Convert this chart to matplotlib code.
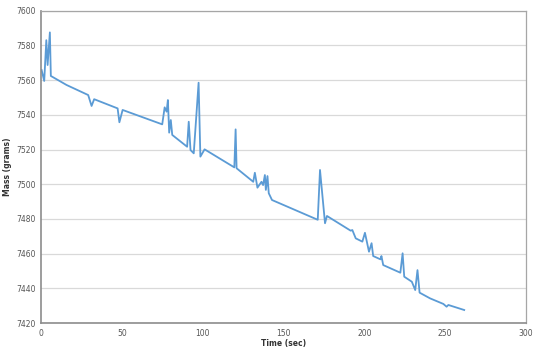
import matplotlib
matplotlib.use('Agg')
import matplotlib.pyplot as plt

# mass readings (grams) against time (sec)
time_sec = [0.4, 2.0, 3.3, 4.1, 5.5, 6.1, 15.8, 29.2, 31.3, 32.9, 47.4, 48.5,
            50.5, 75.0, 76.5, 77.7, 78.5, 79.3, 80.3, 81.2, 90.4, 91.4, 92.5,
            94.5, 97.5, 98.6, 101.2, 119.6, 120.4, 121.0, 131.3, 132.3, 133.9,
            136.4, 137.4, 138.5, 139.1, 140.1, 140.9, 142.9, 171.2, 172.6,
            175.7, 176.9, 191.6, 192.6, 194.7, 198.8, 200.4, 202.9, 204.5,
            205.5, 210.0, 210.6, 211.7, 222.3, 223.7, 224.7, 229.4, 231.5,
            232.9, 234.2, 240.7, 248.9, 250.9, 252.0, 261.8]
mass_g = [7565.8, 7559.5, 7583.0, 7568.7, 7587.5, 7562.4, 7557.2, 7551.4,
          7545.1, 7549.0, 7543.7, 7535.7, 7542.8, 7534.5, 7544.3, 7541.8,
          7548.5, 7529.7, 7537.0, 7528.4, 7521.6, 7536.0, 7519.7, 7517.8,
          7558.5, 7515.9, 7520.1, 7509.7, 7531.6, 7509.2, 7501.4, 7506.6,
          7498.0, 7501.4, 7499.5, 7505.3, 7496.7, 7504.7, 7494.8, 7490.9,
          7479.5, 7508.2, 7477.5, 7481.7, 7473.2, 7473.6, 7468.8, 7466.9,
          7472.0, 7461.1, 7466.0, 7458.6, 7456.7, 7458.6, 7453.4, 7449.0,
          7460.2, 7446.7, 7443.8, 7439.0, 7450.5, 7437.5, 7434.2, 7431.0,
          7429.4, 7430.4, 7427.5]

x_ticks = [0, 50, 100, 150, 200, 250, 300]
y_ticks = [7420, 7440, 7460, 7480, 7500, 7520, 7540, 7560, 7580, 7600]

fig = plt.figure(figsize=(5.35, 3.5), dpi=100)
ax = fig.add_axes([0.0766, 0.0771, 0.9065, 0.8923])

ax.plot(time_sec, mass_g, color='#5b9bd5', linewidth=1.3)

ax.set_xlim(0, 300)
ax.set_ylim(7420, 7600)
ax.set_xticks(x_ticks)
ax.set_yticks(y_ticks)
ax.tick_params(length=0, labelsize=5.5, labelcolor='#555555', pad=4)
ax.grid(axis='y', color='#d9d9d9', linewidth=0.9)
ax.set_axisbelow(True)
for side in ['left', 'bottom']:
    ax.spines[side].set_color('#8c8c8c')
    ax.spines[side].set_linewidth(1.2)
for side in ['top', 'right']:
    ax.spines[side].set_color('#a6a6a6')
    ax.spines[side].set_linewidth(0.9)

ax.set_xlabel('Time (sec)', fontsize=5.5, fontweight='bold', color='#333333', labelpad=1)
ax.set_ylabel('Mass (grams)', fontsize=5.5, fontweight='bold', color='#333333', labelpad=3)

fig.savefig('out.png', dpi=100)
